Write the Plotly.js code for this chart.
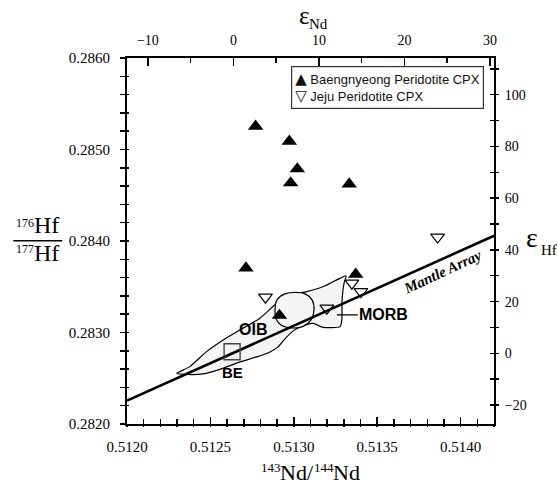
<!DOCTYPE html>
<html>
<head>
<meta charset="utf-8">
<script src="https://cdn.plot.ly/plotly-3.0.1.min.js"></script>
<style>html,body{margin:0;padding:0;background:#fff;}#chart{width:558px;height:485px;}</style>
</head>
<body>
<div id="chart"></div>
<script>
// ---- reference constants (CHUR) ----
const CHUR_ND = 0.512638;
const CHUR_HF = 0.282772;

// ---- axis ranges ----
const ndRange = [0.5120, 0.5142];
const hfRange = [0.2820, 0.2860];

// ---- Baengnyeong Peridotite CPX ----
const baengNd = [0.512771, 0.512973, 0.513021, 0.512981, 0.513332, 0.512713, 0.513371, 0.512914];
const baengHf = [0.285253, 0.285089, 0.284787, 0.284634, 0.284623, 0.283704, 0.283636, 0.283187];

// ---- Jeju Peridotite CPX ----
const jejuNd = [0.512830, 0.513198, 0.513348, 0.513402, 0.513862];
const jejuHf = [0.283386, 0.283266, 0.283539, 0.283447, 0.284043];

// ---- Bulk Earth ----
const beNd = [0.512630];
const beHf = [0.282790];

// ---- Mantle array ----
const mantleNd = [0.5120, 0.5142];
const mantleHf = [0.282255, 0.284057];

// ---- OIB field outline ----
const oibNd = [0.5122985, 0.5123766, 0.5124769, 0.5125766, 0.5126769, 0.5127970, 0.5128973, 0.5129772,
  0.5130775, 0.5131772, 0.5132577, 0.5133135, 0.5133015, 0.5132895, 0.5132877, 0.5132775,
  0.5131754, 0.5131153, 0.5130372, 0.5129892, 0.5129411, 0.5129051, 0.5128571, 0.5127772,
  0.5126769, 0.5125568, 0.5124565, 0.5123568, 0.5122985];
const oibHf = [0.2825525, 0.2826270, 0.2827910, 0.2829190, 0.2830284, 0.2831565, 0.2833206, 0.2834114,
  0.2834475, 0.2835022, 0.2835755, 0.2836193, 0.2835427, 0.2833567, 0.2831379, 0.2830646,
  0.2830558, 0.2830996, 0.2830613, 0.2830066, 0.2829190, 0.2828425, 0.2827877, 0.2827330,
  0.2826783, 0.2825963, 0.2825470, 0.2825416, 0.2825525];

// ---- MORB loop outline ----
const morbNd = [0.5128871, 0.5128991, 0.5129471, 0.5130072, 0.5130673, 0.5131093, 0.5131213, 0.5131033,
  0.5130553, 0.5129892, 0.5129231, 0.5128931, 0.5128871];
const morbHf = [0.2832254, 0.2833567, 0.2834223, 0.2834387, 0.2834223, 0.2833567, 0.2832473, 0.2831379,
  0.2830667, 0.2830503, 0.2830832, 0.2831488, 0.2832254];

// ---- label anchors ----
const labelOIB = [0.5127532, 0.2830284];
const labelBE = [0.5126306, 0.2825656];
const labelMORB = [0.5132577, 0.2831926];
const labelMantle = [0.5138883, 0.2836663];

// ---- legend entries ----
const legendNames = ['Baengnyeong Peridotite CPX', 'Jeju Peridotite CPX'];
const legendGlyphs = ['▲', '▽'];

const epsNd = v => (v / CHUR_ND - 1) * 1e4;
const epsHf = v => (v / CHUR_HF - 1) * 1e4;
const eNdRange = ndRange.map(epsNd);
const eHfRange = hfRange.map(epsHf);

const SERIF = 'Liberation Serif';
const SANS = 'Liberation Sans';

const traces = [
  {x: oibNd, y: oibHf, mode: 'lines', fill: 'toself', fillcolor: '#f4f4f4',
   line: {color: '#000', width: 1.2, shape: 'spline', smoothing: 0.6}, showlegend: false, hoverinfo: 'skip'},
  {x: morbNd, y: morbHf, mode: 'lines', fill: 'toself', fillcolor: '#f4f4f4',
   line: {color: '#000', width: 1.2, shape: 'spline', smoothing: 0.8}, showlegend: false, hoverinfo: 'skip'},
  {x: mantleNd, y: mantleHf, mode: 'lines', line: {color: '#000', width: 2.6}, showlegend: false, hoverinfo: 'skip'},
  {x: beNd, y: beHf, mode: 'markers', marker: {symbol: 'square-open', size: 16, color: '#444', line: {width: 1.4}},
   showlegend: false, hoverinfo: 'skip'},
  {x: baengNd, y: baengHf, mode: 'markers', name: legendNames[0], showlegend: false,
   marker: {symbol: 'triangle-up', size: 13.5, color: '#000', line: {width: 0}}},
  {x: jejuNd, y: jejuHf, mode: 'markers', name: legendNames[1], showlegend: false,
   marker: {symbol: 'triangle-down-open', size: 12, color: '#000', line: {width: 1.2}}},
  // anchor traces for the secondary (epsilon / cross-tick) axes
  {x: eNdRange, y: eHfRange, xaxis: 'x2', yaxis: 'y2', mode: 'markers', marker: {opacity: 0}, showlegend: false, hoverinfo: 'skip'},
  {x: eNdRange, y: eHfRange, xaxis: 'x2', yaxis: 'y3', mode: 'markers', marker: {opacity: 0}, showlegend: false, hoverinfo: 'skip'},
  {x: ndRange, y: hfRange, xaxis: 'x3', yaxis: 'y4', mode: 'markers', marker: {opacity: 0}, showlegend: false, hoverinfo: 'skip'}
];

const baseAx = {showgrid: false, zeroline: false, fixedrange: true, autorange: false, tickcolor: '#000'};
const tf = size => ({family: SERIF, size: size, color: '#000'});

const glyph = g => '<span style="font-family:DejaVu Sans;font-size:15px">' + g + '</span>';
const legendText = legendNames.map((n, i) => glyph(legendGlyphs[i]) + ' ' + n).join('<br>');

const ann = (x, y, text, size, family, extra) => Object.assign({
  x: x, y: y, xref: 'paper', yref: 'paper', text: text, showarrow: false,
  xanchor: 'center', yanchor: 'middle', borderpad: 0,
  font: {family: family, size: size, color: '#000'}
}, extra || {});

const layout = {
  width: 558, height: 485,
  margin: {l: 127, r: 64, t: 58, b: 61, pad: 0},
  paper_bgcolor: '#fff', plot_bgcolor: '#fff',
  font: {family: SERIF, size: 14, color: '#000'},
  showlegend: false,
  xaxis: Object.assign({}, baseAx, {
    range: ndRange, tick0: 0.512, dtick: 0.0005, tickformat: '.4f',
    ticks: 'inside', ticklen: 7, tickwidth: 1.5,
    minor: {dtick: 0.0001, ticks: 'inside', ticklen: 5, tickwidth: 1.5, tickcolor: '#000'},
    showline: true, linecolor: '#000', linewidth: 2,
    tickfont: tf(15), ticklabelstandoff: 8
  }),
  yaxis: Object.assign({}, baseAx, {
    range: hfRange, tick0: 0.282, dtick: 0.001, tickformat: '.4f',
    ticks: 'outside', ticklen: 5, tickwidth: 1.5,
    minor: {dtick: 0.0002, ticks: 'outside', ticklen: 5, tickwidth: 1.5, tickcolor: '#000'},
    showline: true, linecolor: '#000', linewidth: 2,
    tickfont: tf(15), ticklabelstandoff: 7
  }),
  xaxis2: Object.assign({}, baseAx, {
    overlaying: 'x', side: 'top', anchor: 'y', range: eNdRange, tick0: 0, dtick: 10,
    ticks: 'inside', ticklen: 8, tickwidth: 1.5,
    minor: {dtick: 5, ticks: 'inside', ticklen: 5, tickwidth: 1.5, tickcolor: '#000'},
    showline: true, linecolor: '#000', linewidth: 2,
    tickfont: tf(14), ticklabelstandoff: 5
  }),
  yaxis2: Object.assign({}, baseAx, {
    overlaying: 'y', side: 'right', anchor: 'x', range: eHfRange, tick0: 0, dtick: 20,
    ticks: 'inside', ticklen: 4, tickwidth: 1.5,
    minor: {dtick: 10, ticks: 'inside', ticklen: 4, tickwidth: 1.5, tickcolor: '#000'},
    showline: true, linecolor: '#000', linewidth: 2,
    tickfont: tf(14), ticklabelstandoff: 6
  }),
  yaxis3: Object.assign({}, baseAx, {
    overlaying: 'y', side: 'right', anchor: 'x', range: eHfRange, tick0: 0, dtick: 10,
    ticks: 'outside', ticklen: 4, tickwidth: 1.5, showticklabels: false, showline: false
  }),
  xaxis3: Object.assign({}, baseAx, {
    overlaying: 'x', side: 'bottom', anchor: 'y', range: ndRange, tick0: 0.512, dtick: 0.0001,
    ticks: 'outside', ticklen: 2, tickwidth: 1.5, showticklabels: false, showline: false
  }),
  yaxis4: Object.assign({}, baseAx, {
    overlaying: 'y', side: 'left', anchor: 'x', range: hfRange, tick0: 0.282, dtick: 0.0002,
    ticks: 'inside', ticklen: 2, tickwidth: 1.5, showticklabels: false, showline: false
  }),
  shapes: [
    {type: 'line', xref: 'paper', yref: 'paper', x0: -0.3098, x1: -0.1763, y0: 0.5008, y1: 0.5008,
     line: {color: '#000', width: 1.5}}
  ],
  annotations: [
    // legend box
    ann(0.4458, 0.979, legendText, 13, SANS, {xanchor: 'left', yanchor: 'top', align: 'left',
      bordercolor: '#333', borderwidth: 1.2, borderpad: 3, bgcolor: '#fff', font: {family: SANS, size: 13, color: '#111'}}),
    // field labels
    {x: labelOIB[0], y: labelOIB[1], xref: 'x', yref: 'y', text: '<b>OIB</b>', showarrow: false,
     font: {family: SANS, size: 16, color: '#000'}},
    {x: labelBE[0], y: labelBE[1], xref: 'x', yref: 'y', text: '<b>BE</b>', showarrow: false,
     font: {family: SANS, size: 15, color: '#000'}},
    {x: labelMORB[0], y: labelMORB[1], xref: 'x', yref: 'y', text: '<b>MORB</b>', showarrow: true,
     arrowhead: 0, arrowwidth: 1.2, arrowcolor: '#000', ax: 47, ay: 0, standoff: 0,
     font: {family: SANS, size: 16, color: '#000'}},
    {x: labelMantle[0], y: labelMantle[1], xref: 'x', yref: 'y', text: '<b><i>Mantle Array</i></b>',
     showarrow: false, textangle: -25, font: {family: SERIF, size: 15, color: '#000'}},
    // bottom title  143Nd/144Nd
    ann(0.3624, -0.1183, '143', 13, SERIF, {xanchor: 'left'}),
    ann(0.4155, -0.1328, 'Nd/', 22, SERIF, {xanchor: 'left'}),
    ann(0.5055, -0.1183, '144', 13, SERIF, {xanchor: 'left'}),
    ann(0.5586, -0.1328, 'Nd', 22, SERIF, {xanchor: 'left'}),
    // left title  176Hf / 177Hf
    ann(-0.3052, 0.5492, '176', 12, SERIF, {xanchor: 'left'}),
    ann(-0.2553, 0.5440, 'Hf', 24, SERIF, {xanchor: 'left'}),
    ann(-0.3052, 0.4792, '177', 12, SERIF, {xanchor: 'left'}),
    ann(-0.2553, 0.4680, 'Hf', 24, SERIF, {xanchor: 'left'}),
    // top title  εNd
    ann(0.485, 1.1161, 'ε', 25, SERIF),
    ann(0.4935, 1.094, 'Nd', 15, SERIF, {xanchor: 'left'}),
    // right title  εHf
    ann(1.1035, 0.5093, 'ε', 28, SERIF),
    ann(1.1253, 0.4757, 'Hf', 15, SERIF, {xanchor: 'left'})
  ]
};

Plotly.newPlot('chart', traces, layout, {displayModeBar: false, staticPlot: true});
</script>
</body>
</html>
